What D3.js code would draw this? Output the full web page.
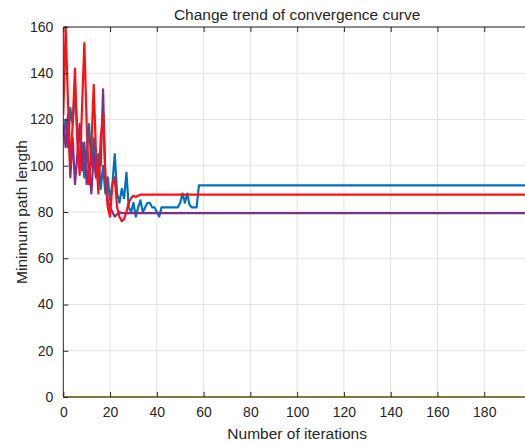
<!DOCTYPE html>
<html lang="en">
  <head>
    <meta charset="utf-8">
    <title>Change trend of convergence curve</title>
    <style type="text/css">
      body { margin: 0; background: #fff; }
      svg { display: block; }
      text { font-family: "Liberation Sans", Arial, sans-serif; fill: #262626; }
    </style>
  </head>
  <body>
    <script type="text/javascript" src="https://d3js.org/d3.v7.min.js"></script>
    <script type="text/javascript">
    // ===================================
    // DATA
    // ===================================
      var xTicks = [0, 20, 40, 60, 80, 100, 120, 140, 160, 180];
      var yTicks = [0, 20, 40, 60, 80, 100, 120, 140, 160];
      var lastIter = 200;

      // values for iterations 0,1,2,... ; the last value holds until lastIter
      var blueValues = [113, 120, 108, 125, 118, 132, 115, 100, 110, 95,
        105, 118, 100, 112, 95, 105, 90, 100, 88, 95,
        85, 92, 105, 88, 84, 90, 86, 97, 82, 80,
        84, 78, 82, 85, 80, 82, 84, 84, 82, 82,
        80, 78, 82, 82, 82, 82, 82, 82, 82, 82,
        84, 88, 84, 88, 83, 82, 82, 82, 91.5];
      var purpleValues = [118, 108, 122, 95, 112, 92, 105, 118, 98, 110,
        92, 100, 88, 105, 95, 100, 100, 133, 95, 85,
        82, 80, 78, 79, 80, 79.5];
      var redValues = [122, 160, 128, 100, 118, 142, 110, 96, 125, 153,
        118, 92, 108, 135, 105, 88, 112, 122, 95, 82,
        78, 92, 95, 82, 78, 76, 77, 80, 84, 86,
        87, 86.5, 87, 87.5];
      var yellowValues = [0];

      var seriesNames = ["yellow", "blue", "purple", "red"];
      var seriesValues = [yellowValues, blueValues, purpleValues, redValues];
      var seriesColors = ["#EDB120", "#0072BD", "#7E2F8E", "#FF1010"];
      var seriesWidths = [1.5, 2.2, 2.2, 2.2];

    // ===================================
    // LAYOUT
    // ===================================
      var w = 525;
      var h = 443;
      var pLeft = 63.3, pRight = 531, pTop = 27, pBottom = 397;

      var x = d3.scaleLinear().domain([0, 200]).range([pLeft, pRight]);
      var y = d3.scaleLinear().domain([0, 160]).range([pBottom, pTop]);

      var svg = d3.select("body")
        .append("svg")
        .attr("width", w)
        .attr("height", h);

      svg.append("clipPath")
        .attr("id", "plot-clip")
        .append("rect")
        .attr("x", pLeft)
        .attr("y", pTop - 1)
        .attr("width", pRight - pLeft)
        .attr("height", pBottom - pTop + 2);

    // ===================================
    // GRID
    // ===================================
      var grid = svg.append("g");
      grid.selectAll("line.vx")
        .data(xTicks.slice(1))
        .enter()
        .append("line")
        .attr("x1", function(d) { return x(d); })
        .attr("x2", function(d) { return x(d); })
        .attr("y1", pTop)
        .attr("y2", pBottom)
        .attr("stroke", "#e2e2e2")
        .attr("stroke-width", 1);
      grid.selectAll("line.hy")
        .data(yTicks.slice(1))
        .enter()
        .append("line")
        .attr("x1", pLeft)
        .attr("x2", pRight)
        .attr("y1", function(d) { return y(d); })
        .attr("y2", function(d) { return y(d); })
        .attr("stroke", "#e2e2e2")
        .attr("stroke-width", 1);

    // ===================================
    // LINES
    // ===================================
      var line = d3.line()
        .x(function(d) { return x(d[0]); })
        .y(function(d) { return y(d[1]); });

      var lines = svg.append("g").attr("clip-path", "url(#plot-clip)");
      seriesValues.forEach(function(vals, k) {
        var pts = vals.map(function(v, i) { return [i, v]; });
        pts.push([lastIter, vals[vals.length - 1]]);
        lines.append("path")
          .attr("class", seriesNames[k])
          .datum(pts)
          .attr("d", line)
          .attr("fill", "none")
          .attr("stroke", seriesColors[k])
          .attr("stroke-width", seriesWidths[k])
          .attr("stroke-linejoin", "round");
      });

    // ===================================
    // AXES
    // ===================================
      var xAxis = d3.axisBottom(x).tickValues(xTicks).tickSize(-5).tickPadding(10);
      var xTop = d3.axisTop(x).tickValues(xTicks).tickSize(-5).tickFormat("");
      var yAxis = d3.axisLeft(y).tickValues(yTicks).tickSize(-5).tickPadding(10);

      var gx = svg.append("g").attr("transform", "translate(0," + pBottom + ")").call(xAxis);
      var gt = svg.append("g").attr("transform", "translate(0," + pTop + ")").call(xTop);
      var gy = svg.append("g").attr("transform", "translate(" + pLeft + ",0)").call(yAxis);

      [gx, gt, gy].forEach(function(g) {
        g.selectAll("path.domain").attr("stroke", "#262626").attr("stroke-width", 1);
        g.selectAll(".tick line").attr("stroke", "#262626").attr("stroke-width", 1);
        g.selectAll(".tick text")
          .attr("fill", "#262626")
          .style("font-size", "14px")
          .style("font-family", "'Liberation Sans', Arial, sans-serif");
      });
      gx.selectAll("path.domain").attr("d", "M" + pLeft + ",0H" + pRight);
      gt.selectAll("path.domain").attr("d", "M" + pLeft + ",0H" + pRight);
      gy.selectAll("path.domain").attr("d", "M0," + pBottom + "V" + pTop);

    // ===================================
    // TITLES
    // ===================================
      svg.append("text")
        .attr("x", (pLeft + pRight) / 2)
        .attr("y", 20)
        .attr("text-anchor", "middle")
        .style("font-size", "15.5px")
        .text("Change trend of convergence curve");

      svg.append("text")
        .attr("x", (pLeft + pRight) / 2)
        .attr("y", 439)
        .attr("text-anchor", "middle")
        .style("font-size", "15.5px")
        .text("Number of iterations");

      svg.append("text")
        .attr("transform", "translate(27," + ((pTop + pBottom) / 2) + ") rotate(-90)")
        .attr("text-anchor", "middle")
        .style("font-size", "15.5px")
        .text("Minimum path length");
    </script>
  </body>
</html>
